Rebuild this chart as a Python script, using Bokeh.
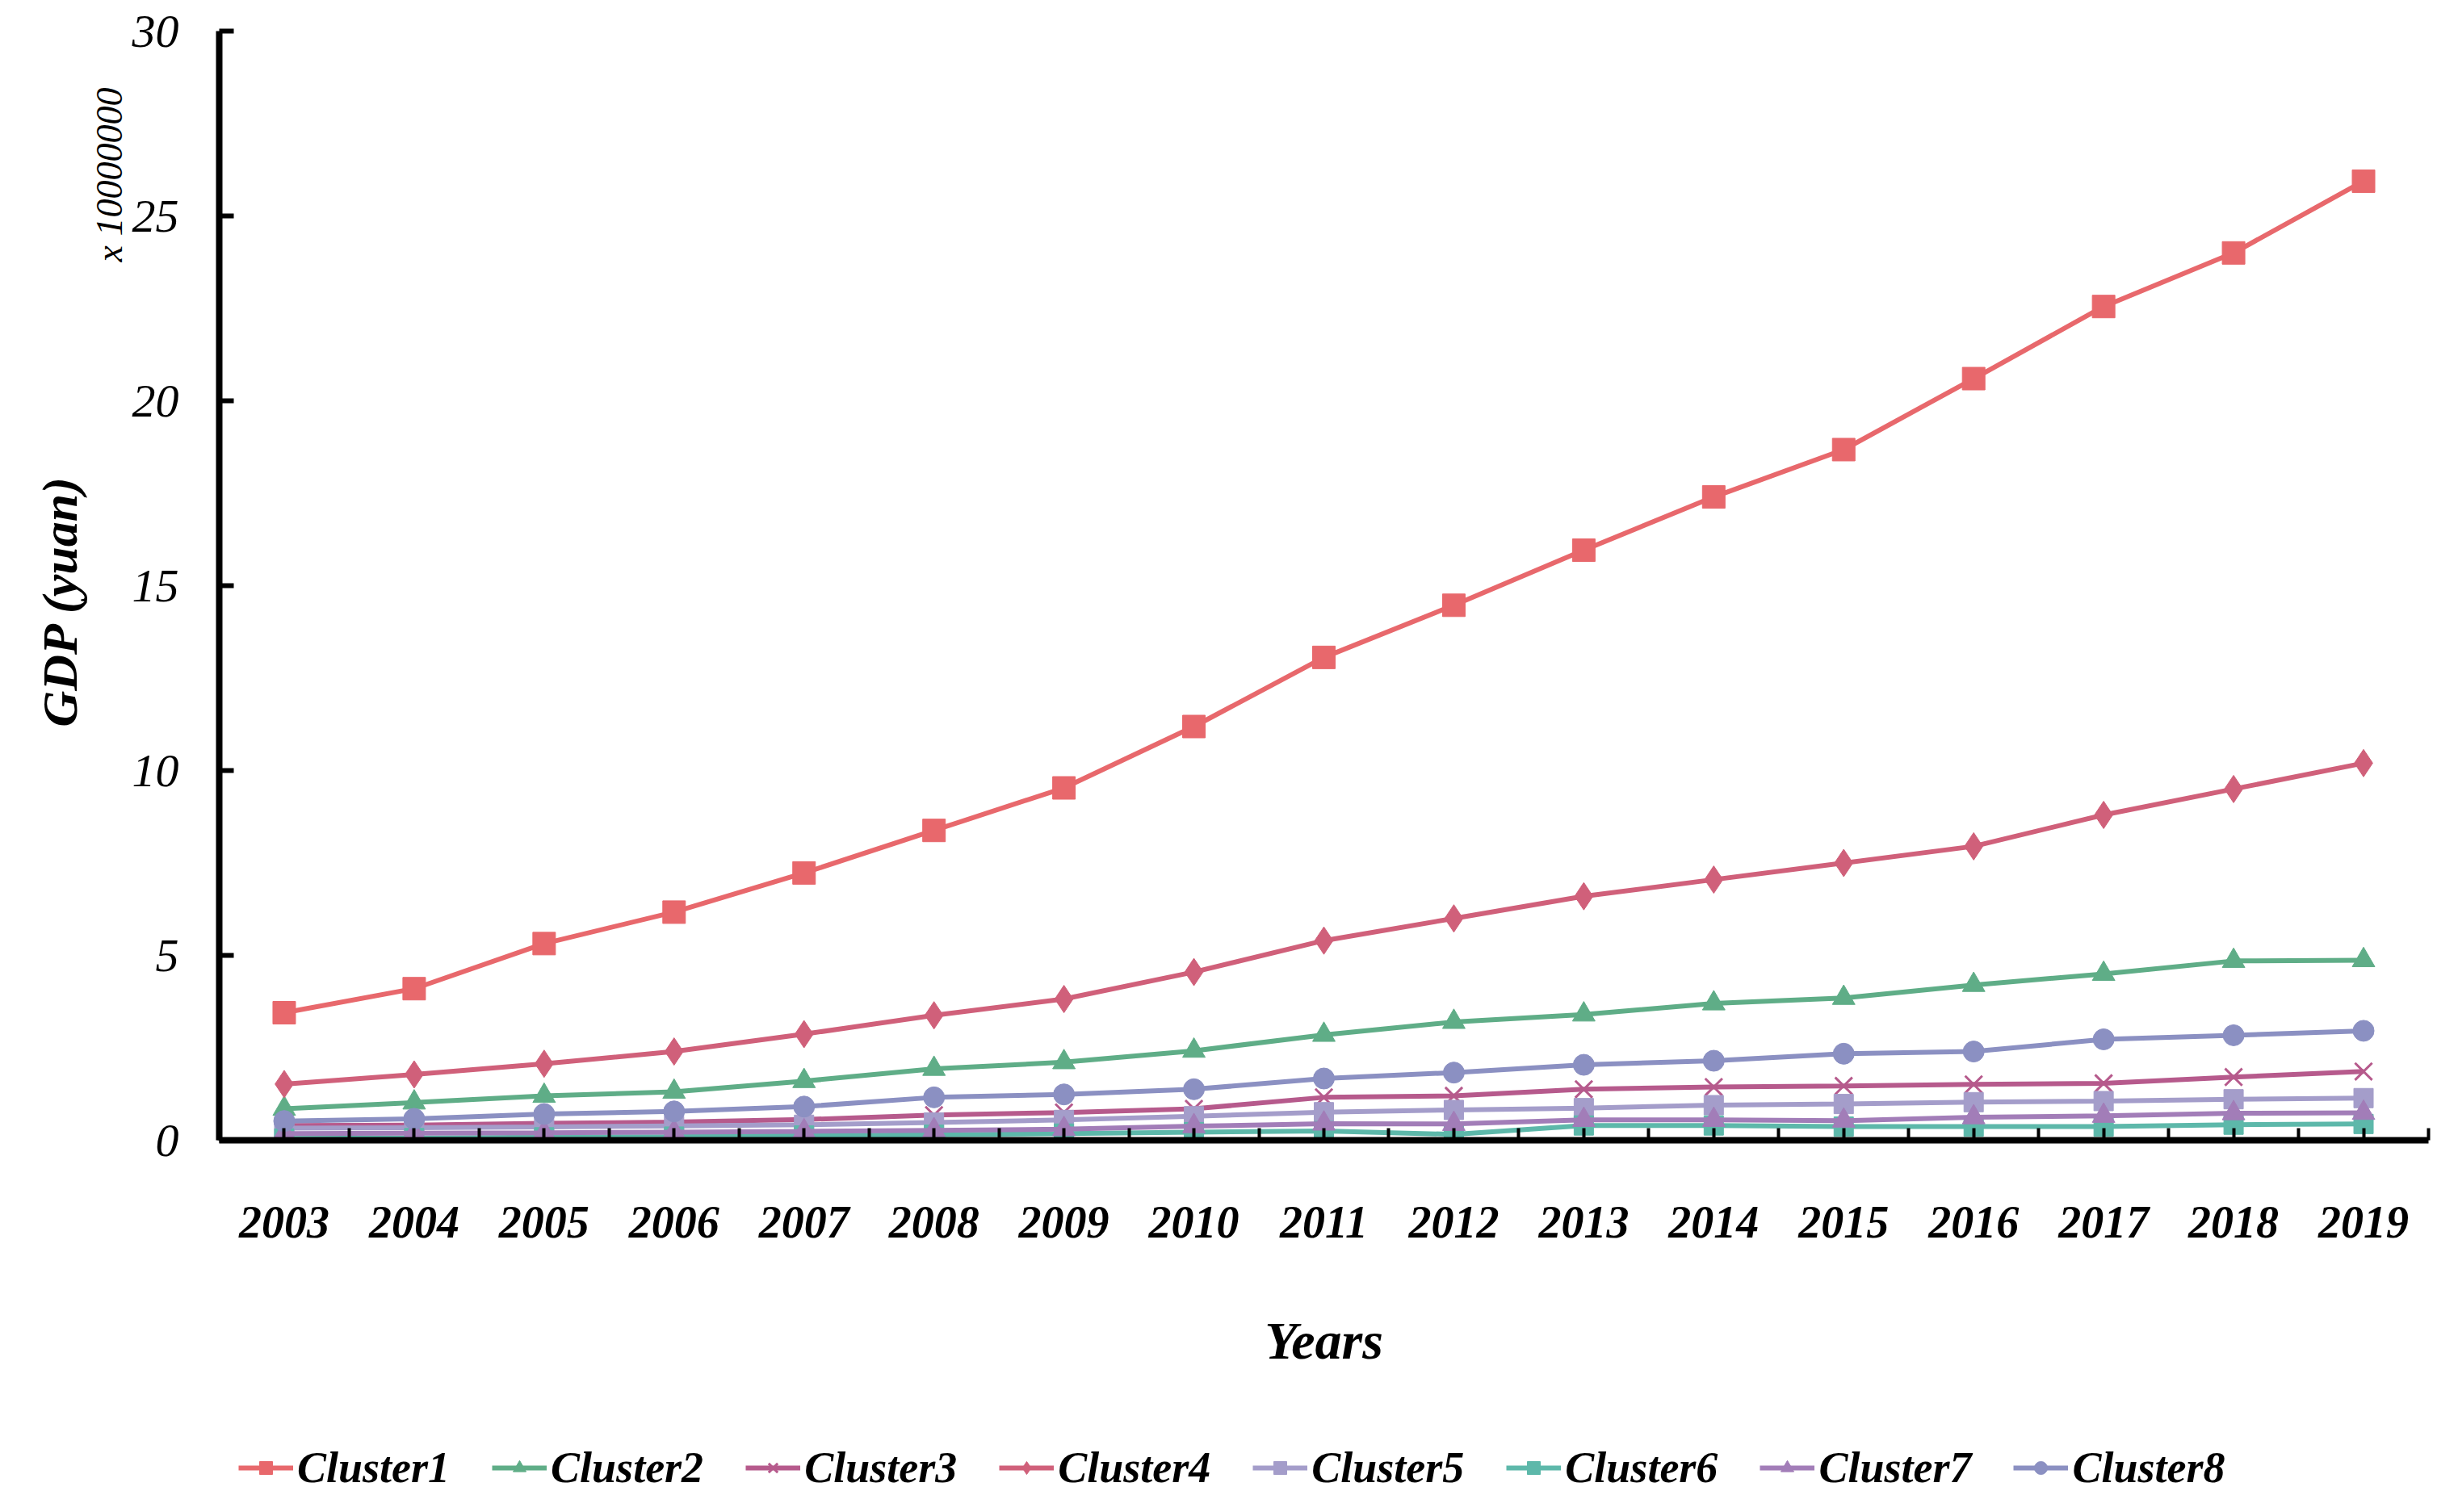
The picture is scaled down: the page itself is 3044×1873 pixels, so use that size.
from bokeh.plotting import figure
from bokeh.layouts import column
from bokeh.models import Range1d, FixedTicker, Legend, LegendItem, Title
from bokeh.embed import file_html
from bokeh.resources import INLINE

years = list(range(2003, 2020))
series_names = ["Cluster1", "Cluster2", "Cluster3", "Cluster4",
                "Cluster5", "Cluster6", "Cluster7", "Cluster8"]
cluster1 = [3.45, 4.1, 5.32, 6.17, 7.23, 8.38, 9.53, 11.19, 13.06, 14.47, 15.96, 17.4, 18.68, 20.6, 22.55, 24.0, 25.94]
cluster2 = [0.85, 1.02, 1.2, 1.31, 1.6, 1.93, 2.11, 2.42, 2.85, 3.2, 3.4, 3.7, 3.85, 4.2, 4.5, 4.85, 4.87]
cluster3 = [0.40, 0.41, 0.46, 0.49, 0.56, 0.68, 0.75, 0.85, 1.16, 1.20, 1.38, 1.44, 1.47, 1.51, 1.54, 1.71, 1.86]
cluster4 = [1.52, 1.78, 2.07, 2.40, 2.87, 3.38, 3.82, 4.55, 5.4, 6.0, 6.6, 7.05, 7.5, 7.95, 8.8, 9.5, 10.2]
cluster5 = [0.33, 0.34, 0.36, 0.39, 0.42, 0.48, 0.55, 0.65, 0.76, 0.82, 0.87, 0.95, 0.98, 1.03, 1.06, 1.11, 1.14]
cluster6 = [0.05, 0.06, 0.08, 0.10, 0.13, 0.15, 0.18, 0.22, 0.25, 0.16, 0.40, 0.40, 0.37, 0.37, 0.37, 0.42, 0.44]
cluster7 = [0.18, 0.19, 0.20, 0.22, 0.24, 0.27, 0.30, 0.38, 0.45, 0.44, 0.55, 0.55, 0.53, 0.62, 0.66, 0.73, 0.74]
cluster8 = [0.52, 0.58, 0.71, 0.78, 0.91, 1.16, 1.24, 1.38, 1.67, 1.83, 2.04, 2.15, 2.34, 2.40, 2.73, 2.84, 2.96]
y_ticks = [0, 5, 10, 15, 20, 25, 30]

series = [cluster1, cluster2, cluster3, cluster4, cluster5, cluster6, cluster7, cluster8]
colors = ["#E8686C", "#5FAD87", "#B65A8C", "#D0607A", "#A49DCA", "#5DB8AA", "#A27DB8", "#8B90C2"]
markers = ["square", "triangle", "x", "diamond", "square", "square", "triangle", "circle"]
msizes = [28, 28, 30, 34, 24, 24, 28, 26]

FONT = "Liberation Serif"
W = 3028
H1, H2 = 1747, 110
LEFT = 271

p = figure(width=W, height=H1, output_backend="svg", toolbar_location=None,
           x_range=Range1d(2002.5, 2019.5), y_range=Range1d(0, 30),
           min_border_left=LEFT, min_border_right=21,
           min_border_top=38, min_border_bottom=H1 - 38 - 1374, title=None)
p.outline_line_color = None
p.xgrid.visible = False
p.ygrid.visible = False

# x axis
xa = p.xaxis[0]
xa.ticker = FixedTicker(ticks=years, minor_ticks=[y + 0.5 for y in range(2002, 2020)])
xa.axis_line_width = 8
xa.axis_line_color = "black"
xa.major_tick_in = 15
xa.major_tick_out = 0
xa.major_tick_line_width = 4
xa.minor_tick_in = 15
xa.minor_tick_out = 0
xa.minor_tick_line_width = 4
xa.major_label_text_font = FONT
xa.major_label_text_font_style = "bold italic"
xa.major_label_text_font_size = "56px"
xa.major_label_text_color = "black"
xa.major_label_standoff = 82
xa.axis_label = "Years"
xa.axis_label_text_font = FONT
xa.axis_label_text_font_style = "bold italic"
xa.axis_label_text_font_size = "66px"
xa.axis_label_text_color = "black"
xa.axis_label_standoff = 88

# y axis
ya = p.yaxis[0]
ya.ticker = FixedTicker(ticks=y_ticks, minor_ticks=[])
ya.axis_line_width = 8
ya.axis_line_color = "black"
ya.major_tick_in = 18
ya.major_tick_out = 0
ya.major_tick_line_width = 6
ya.major_label_text_font = FONT
ya.major_label_text_font_style = "italic"
ya.major_label_text_font_size = "58px"
ya.major_label_text_color = "black"
ya.major_label_standoff = 50

for vals, col, mk, ms in zip(series, colors, markers, msizes):
    p.line(years, vals, line_color=col, line_width=6)
    p.scatter(years, vals, marker=mk, size=ms, fill_color=col,
              line_color=col, line_width=3 if mk == "x" else 1)

# multiplier and y title as left-side titles (outside the y axis)
mult = Title(text="x 10000000", align="right", offset=70,
             text_font=FONT, text_font_style="italic",
             text_font_size="46px", text_color="black", standoff=0)
p.add_layout(mult, "left")
ytitle = Title(text="GDP (yuan)", align="left", offset=512,
               text_font=FONT, text_font_style="bold italic",
               text_font_size="62px", text_color="black", standoff=0)
p.add_layout(ytitle, "left")

# legend strip below the chart (series drawn outside its empty view)
pl = figure(width=W, height=H2, output_backend="svg", toolbar_location=None,
            x_axis_type=None, y_axis_type=None,
            x_range=Range1d(0, 1), y_range=Range1d(0, 1),
            min_border_left=LEFT, min_border_right=21,
            min_border_top=16, min_border_bottom=0, title=None)
pl.outline_line_color = None
pl.grid.visible = False

items = []
for name, vals, col, mk, ms in zip(series_names, series, colors, markers, msizes):
    ln = pl.line(years, vals, line_color=col, line_width=6)
    sc = pl.scatter(years, vals, marker=mk, size=ms, fill_color=col,
                    line_color=col, line_width=3 if mk == "x" else 1)
    items.append(LegendItem(label=name, renderers=[ln, sc]))

legend = Legend(items=items, orientation="horizontal", location="top_left")
legend.glyph_width = 68
legend.glyph_height = 40
legend.label_standoff = 5
legend.spacing = 52
legend.padding = 0
legend.margin = 24
legend.border_line_color = None
legend.background_fill_alpha = 0
legend.label_text_font = FONT
legend.label_text_font_style = "bold italic"
legend.label_text_font_size = "54px"
legend.label_text_color = "black"
pl.add_layout(legend, "center")

layout = column(p, pl, spacing=0)
open("out.html", "w").write(file_html(layout, INLINE))
